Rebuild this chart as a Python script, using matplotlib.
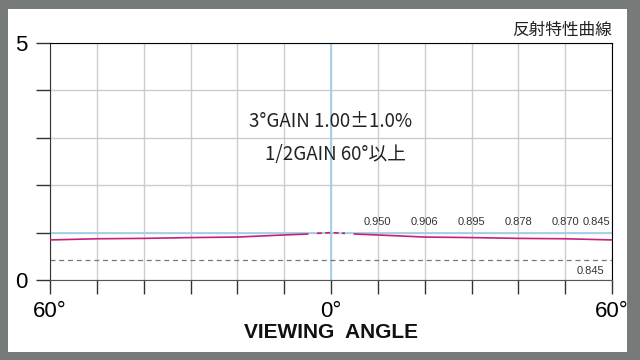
import matplotlib.pyplot as plt
from matplotlib.patches import Rectangle

# measured gain at each viewing angle (right side, mirrored to the left)
angles = [5, 10, 20, 30, 40, 50, 60]
gains = [0.97, 0.950, 0.906, 0.895, 0.878, 0.870, 0.845]
center_angles = [-3, 0, 3]
center_gains = [0.985, 1.0, 0.985]
label_angles = [10, 20, 30, 40, 50, 60]
label_texts = ['0.950', '0.906', '0.895', '0.878', '0.870', '0.845']
ref_gain = 1.0
half_gain = 0.845 / 2

magenta = '#c8207a'
lightblue = '#9fd0ea'

fig = plt.figure(figsize=(6.4, 3.6), dpi=100, facecolor='#767a79')
fig.patches.append(Rectangle((8 / 640, 1 - 352 / 360), 619 / 640, 343 / 360,
                             transform=fig.transFigure, facecolor='white',
                             edgecolor='none', zorder=-10))
ax = fig.add_axes([50 / 640, 1 - 280 / 360, 562 / 640, 237 / 360])
ax.set_zorder(5)
ax.set_facecolor('white')

ax.set_xlim(-60, 60)
ax.set_ylim(0, 5)
ax.set_xticks(range(-60, 61, 10))
ax.set_xticklabels(['60°'] + [''] * 5 + ['0°'] + [''] * 5 + ['60°'])
ax.set_yticks(range(0, 6))
ax.set_yticklabels(['0', '', '', '', '', '5'])
ax.tick_params(axis='both', direction='out', length=10, width=1,
               color='#333333', labelsize=16)
ax.tick_params(axis='x', pad=5)
ax.tick_params(axis='y', pad=6)
for lab in ax.get_xticklabels() + ax.get_yticklabels():
    lab.set_fontfamily('Liberation Sans')
ax.grid(True, color='#cccccc', lw=1)
ax.set_axisbelow(True)
for side in ['top', 'right']:
    ax.spines[side].set_color('black')
ax.spines['left'].set_color('#333333')
ax.spines['bottom'].set_color('#555555')

ax.axhline(ref_gain, color=lightblue, lw=1.3, zorder=2)
ax.axvline(0, color=lightblue, lw=1.3, zorder=2)
ax.axhline(half_gain, color='#777777', lw=0.9, ls=(0, (4, 3)), zorder=2)

ax.plot(angles, gains, color=magenta, lw=1.2, zorder=3)
ax.plot([-a for a in angles], gains, color=magenta, lw=1.2, zorder=3)
ax.plot(center_angles, center_gains, color=magenta, lw=1.2,
        ls=(0, (3, 2)), zorder=3)

for a, t in zip(label_angles, label_texts):
    ax.text(a if a < 60 else 59.7, 1.12, t, ha='center' if a < 60 else 'right',
            va='bottom', fontsize=8, color='#333333',
            family='Liberation Sans')
ax.text(55.5, half_gain - 0.12, '0.845', ha='center', va='top', fontsize=8,
        color='#333333', family='Liberation Sans')

ax.text(0, 3.35, '3°GAIN 1.00±1.0%', ha='center', va='center', fontsize=13.5,
        color='#222222', family=['Noto Sans CJK JP', 'DejaVu Sans'])
ax.text(1, 2.65, '1/2GAIN 60°以上', ha='center', va='center', fontsize=13.5,
        color='#222222', family=['Noto Sans CJK JP', 'DejaVu Sans'])

fig.text(612 / 640, 1 - 30 / 360, '反射特性曲線', ha='right', va='center',
         fontsize=12, color='#222222', family='Noto Sans CJK JP')
fig.text(331 / 640, 1 - 333 / 360, 'VIEWING  ANGLE', ha='center', va='center',
         fontsize=15, fontweight='bold', color='#111111',
         family='Liberation Sans')

fig.savefig('out.png', dpi=100, facecolor=fig.get_facecolor())
